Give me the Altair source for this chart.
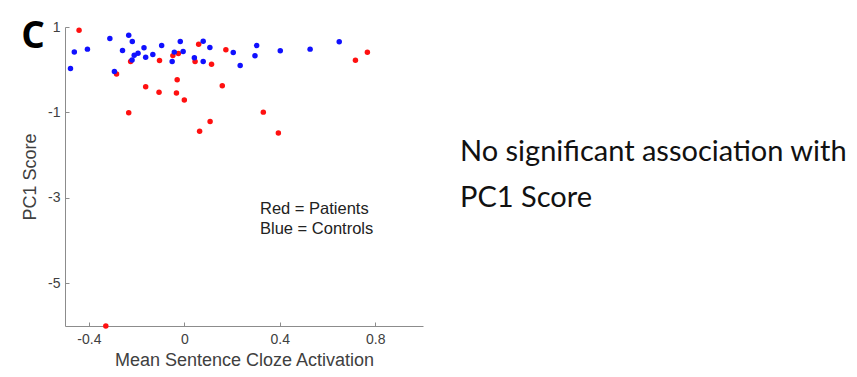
import altair as alt
import pandas as pd

# Patients (red)
pat_x = [-0.441, -0.284, -0.225, -0.104, -0.048, -0.025, 0.045, 0.060, 0.114, 0.174,
         -0.030, -0.162, -0.106, -0.033, 0.000, 0.159, -0.233, 0.331, 0.064, 0.108,
         0.394, 0.717, 0.767, -0.329]
pat_y = [0.925, -0.10, 0.19, 0.214, 0.33, 0.38, 0.19, 0.595, 0.13, 0.466,
         -0.233, -0.398, -0.529, -0.546, -0.711, -0.374, -1.01, -0.993, -1.44, -1.21,
         -1.48, 0.224, 0.41, -6.0]

# Controls (blue)
con_x = [-0.477, -0.461, -0.406, -0.312, -0.293, -0.259, -0.233, -0.218, -0.219, -0.210,
         -0.194, -0.169, -0.162, -0.132, -0.095, -0.051, -0.042, -0.017, -0.005, 0.042,
         0.079, 0.079, 0.107, 0.205, 0.234, 0.296, 0.303, 0.402, 0.527, 0.649]
con_y = [0.028, 0.414, 0.482, 0.73, -0.04, 0.449, 0.807, 0.661, 0.226, 0.336,
         0.388, 0.513, 0.294, 0.355, 0.565, 0.19, 0.412, 0.661, 0.426, 0.278,
         0.19, 0.666, 0.52, 0.402, 0.101, 0.329, 0.565, 0.442, 0.482, 0.654]

x_ticks = [-0.4, 0, 0.4, 0.8]
y_ticks = [1, -1, -3, -5]

pat = pd.DataFrame({"x": pat_x, "y": pat_y})
con = pd.DataFrame({"x": con_x, "y": con_y})

W, H = 358, 299
xs = alt.Scale(domain=[-0.5, 1.0], nice=False, zero=False)
ys = alt.Scale(domain=[-6, 1], nice=False, zero=False)

LBL = "(datum.value < 0 ? '-' : '') + format(abs(datum.value), '~g')"

AX = dict(grid=False, labelFont="Liberation Sans", labelFontSize=14, labelColor="#404040",
          titleFont="Liberation Sans", titleFontSize=18, titleFontWeight="normal",
          titleColor="#404040", domainColor="#8c8c8c", tickColor="#8c8c8c", labelExpr=LBL)

xax = alt.Axis(values=x_ticks, title="Mean Sentence Cloze Activation", tickSize=0,
              labelPadding=6, titlePadding=5, orient="bottom", **AX)
yax = alt.Axis(values=y_ticks, title="PC1 Score", tickSize=0, labelPadding=5,
               titlePadding=8, orient="left", **AX)

base_pts = alt.Chart(pat).mark_circle(size=30, color="#ff1010", opacity=1).encode(
    x=alt.X("x:Q", scale=xs, axis=xax),
    y=alt.Y("y:Q", scale=ys, axis=yax),
)
blue_pts = alt.Chart(con).mark_circle(size=30, color="#1010ff", opacity=1).encode(
    x=alt.X("x:Q", scale=xs, axis=None),
    y=alt.Y("y:Q", scale=ys, axis=None),
)

# inward ticks
tick_layer = alt.Chart(con).mark_circle(opacity=0).encode(
    x=alt.X("x:Q", scale=xs, axis=alt.Axis(values=x_ticks, orient="bottom", offset=-4,
            tickSize=4, domain=False, labels=False, title=None, grid=False,
            tickColor="#8c8c8c")),
    y=alt.Y("y:Q", scale=ys, axis=alt.Axis(values=y_ticks, orient="left", offset=-4,
            tickSize=4, domain=False, labels=False, title=None, grid=False,
            tickColor="#8c8c8c")),
)

def txt(s, x, y, size, font="Liberation Sans", weight="normal", align="left", color="#222222"):
    return alt.Chart(alt.Data(values=[{}])).mark_text(
        text=s, font=font, fontSize=size, fontWeight=weight, align=align,
        baseline="alphabetic", color=color
    ).encode(x=alt.value(x), y=alt.value(y))

label_c = txt("C", -32, 21, 37, font="Open Sans", weight="bold", align="center", color="#000000")
leg1 = txt("Red = Patients", 195, 187, 16.5)
leg2 = txt("Blue = Controls", 195, 207, 16.5)
note1 = txt("No significant association with", 395, 134, 29, font="Lato", color="#111111")
note2 = txt("PC1 Score", 395, 180, 29, font="Lato", color="#111111")

chart = alt.layer(base_pts, tick_layer, blue_pts, label_c, leg1, leg2, note1, note2).resolve_axis(
    x="independent", y="independent"
).properties(
    width=W, height=H,
    autosize=alt.AutoSizeParams(type="none"),
    padding={"left": 57, "top": 19, "right": 426, "bottom": 43},
).configure_view(stroke=None)

chart.save("out.html", embed_options={"renderer": "svg", "actions": False})
